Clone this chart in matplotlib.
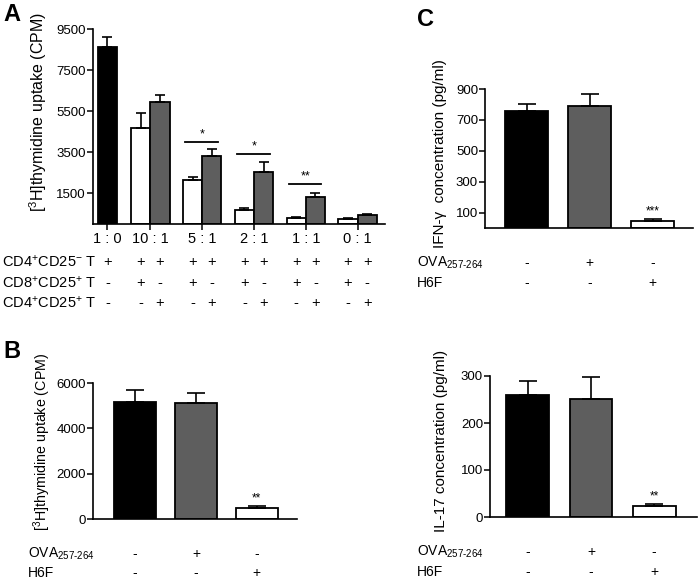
import matplotlib
matplotlib.use('Agg')
import matplotlib.pyplot as plt
import matplotlib.transforms as mtransforms
import numpy as np

plt.rcParams['font.family'] = ['Liberation Sans', 'DejaVu Sans']
plt.rcParams['mathtext.fontset'] = 'custom'
plt.rcParams['mathtext.rm'] = 'Liberation Sans'
plt.rcParams['mathtext.it'] = 'Liberation Sans:italic'
plt.rcParams['mathtext.bf'] = 'Liberation Sans:bold'

# ---- panel A data ----
ratios = ['1 : 0', '10 : 1', '5 : 1', '2 : 1', '1 : 1', '0 : 1']
a_black = 8600
a_black_err = 500
a_cd8 = [4700, 2150, 700, 290, 250]
a_cd8_err = [700, 150, 70, 40, 40]
a_cd4 = [5950, 3320, 2540, 1320, 430]
a_cd4_err = [340, 340, 490, 170, 40]
a_sig_group = [2, 3, 4]
a_sig_y = [4000, 3400, 1950]
a_sig_text = ['*', '*', '**']
a_yticks = [1500, 3500, 5500, 7500, 9500]
a_row_names = [r'CD4$^{+}$CD25$^{-}$ T', r'CD8$^{+}$CD25$^{+}$ T', r'CD4$^{+}$CD25$^{+}$ T']
a_rows = [
    ['+'] + ['+', '+'] * 5,
    ['-'] + ['+', '-'] * 5,
    ['-'] + ['-', '+'] * 5,
]

# ---- panels B / C data ----
b_vals = [5150, 5100, 480]
b_err = [550, 440, 100]
c_ifn = [760, 790, 47]
c_ifn_err = [45, 80, 10]
c_il17 = [260, 252, 24]
c_il17_err = [30, 45, 4]
row_ova = ['-', '+', '-']
row_h6f = ['-', '-', '+']
bc_row_names = [r'OVA$_{257\text{-}264}$', 'H6F']

BLACK = '#000000'
GRAY = '#5e5e5e'
WHITE = '#ffffff'

W, H = 700, 580
fig = plt.figure(figsize=(7, 5.8), dpi=100)


def box(l, t, r, b):
    return [l / W, 1 - b / H, (r - l) / W, (b - t) / H]


def style(ax):
    for s in ['top', 'right']:
        ax.spines[s].set_visible(False)
    for s in ['left', 'bottom']:
        ax.spines[s].set_linewidth(1.2)
    ax.tick_params(axis='y', direction='out', length=4, width=1.1, labelsize=9.5, pad=1)


def rows(ax, xs, names, table, ys, xname, fs):
    tr = mtransforms.blended_transform_factory(ax.transData, fig.transFigure)
    for name, signs, y in zip(names, table, ys):
        fig.text(xname / W, 1 - y / H, name, ha='left', va='center', fontsize=fs)
        for x, s in zip(xs, signs):
            ax.text(x, 1 - y / H, s, transform=tr, ha='center', va='center', fontsize=fs)


# ---------------- A ----------------
ax = fig.add_axes(box(93, 29, 385, 224))
style(ax)
centers = np.array([0] + [0.83 + i for i in range(5)])
bw = 0.37
xw = centers[1:] - bw / 2
xg = centers[1:] + bw / 2
ax.bar(centers[0], a_black, bw, color=BLACK, edgecolor='black', linewidth=1.3, zorder=2)
ax.bar(xw, a_cd8, bw, color=WHITE, edgecolor='black', linewidth=1.3, zorder=2)
ax.bar(xg, a_cd4, bw, color=GRAY, edgecolor='black', linewidth=1.3, zorder=2)
allx = np.concatenate([[centers[0]], xw, xg])
ally = np.concatenate([[a_black], a_cd8, a_cd4])
alle = np.concatenate([[a_black_err], a_cd8_err, a_cd4_err])
ax.errorbar(allx, ally, yerr=[np.zeros_like(alle), alle], fmt='none', ecolor='black',
            elinewidth=1.2, capsize=3.5, capthick=1.2, zorder=3)
for g, y, t in zip(a_sig_group, a_sig_y, a_sig_text):
    c = centers[g]
    ax.plot([c - 0.33, c + 0.3], [y, y], color='black', lw=1.3)
    ax.annotate(t, (c, y), xytext=(0, 1), textcoords='offset points', ha='center',
                va='bottom', fontsize=9)
ax.set_xlim(-0.28, 5.36)
ax.set_ylim(0, 9500)
ax.set_yticks(a_yticks)
ax.set_xticks(centers)
ax.set_xticklabels(ratios, fontsize=10.5)
ax.tick_params(axis='x', direction='out', length=4, width=1.1, pad=2)
ax.set_ylabel(r'[$^{3}$H]thymidine uptake (CPM)', fontsize=11.5)
ax.yaxis.set_label_coords(-0.15, 0.572)
bar_x = np.empty(11)
bar_x[0] = centers[0]
bar_x[1::2] = xw
bar_x[2::2] = xg
rows(ax, bar_x, a_row_names, a_rows, [262, 283, 303], 2, 10.5)


def simple(axbox, vals, err, ylim, yticks, ylabel, lcoords, star, capsize, rowys):
    ax = fig.add_axes(box(*axbox[:4]))
    style(ax)
    x = np.arange(3)
    ax.bar(x, vals, 0.68, color=[BLACK, GRAY, WHITE], edgecolor='black', linewidth=1.3, zorder=2)
    ax.errorbar(x, vals, yerr=[np.zeros(3), err], fmt='none', ecolor='black',
                elinewidth=1.2, capsize=capsize, capthick=1.2, zorder=3)
    ax.annotate(star, (x[2], vals[2] + err[2]), xytext=(0, 1), textcoords='offset points',
                ha='center', va='bottom', fontsize=8.5)
    ax.set_xlim(axbox[4], axbox[5])
    ax.set_ylim(*ylim)
    ax.set_yticks(yticks)
    ax.set_xticks([])
    ax.set_ylabel(ylabel[0], fontsize=ylabel[1])
    ax.yaxis.set_label_coords(*lcoords)
    rows(ax, x, bc_row_names, [row_ova, row_h6f], rowys, axbox[6], 10)
    return ax


# ---------------- B ----------------
simple((93, 383, 297, 519, -0.69, 2.66, 28), b_vals, b_err, (0, 6000), [0, 2000, 4000, 6000],
       (r'[$^{3}$H]thymidine uptake (CPM)', 10.3), (-0.196, 0.566), '**', 6.5, [554, 573])

# ---------------- C top ----------------
simple((485, 89, 693, 228, -0.66, 2.64, 417), c_ifn, c_ifn_err, (0, 900), [100, 300, 500, 700, 900],
       ('IFN-γ  concentration (pg/ml)', 11), (-0.183, 0.533), '***', 6.5, [263, 283])

# ---------------- C bottom ----------------
simple((490, 376, 697, 517, -0.6, 2.68, 417), c_il17, c_il17_err, (0, 300), [0, 100, 200, 300],
       ('IL-17 concentration (pg/ml)', 11), (-0.203, 0.536), '**', 6.5, [552, 572])

for lab, x, y in [('A', 3, 3), ('B', 3, 340), ('C', 417, 8)]:
    fig.text(x / W, 1 - y / H, lab, ha='left', va='top', fontsize=17, fontweight='bold')

fig.savefig('out.png', dpi=100)
